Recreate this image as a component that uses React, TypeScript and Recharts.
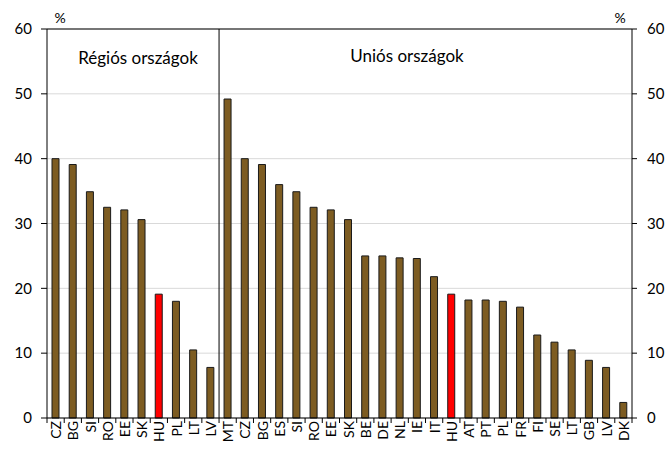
import React from "react";
import {
  ComposedChart,
  Bar,
  Line,
  Cell,
  XAxis,
  YAxis,
  CartesianGrid,
  ReferenceLine,
} from "recharts";

const regionalCountries = ["CZ", "BG", "SI", "RO", "EE", "SK", "HU", "PL", "LT", "LV"];
const regionalValues = [40.0, 39.1, 34.9, 32.5, 32.1, 30.6, 19.1, 18.0, 10.5, 7.8];

const euCountries = [
  "MT", "CZ", "BG", "ES", "SI", "RO", "EE", "SK", "BE", "DE", "NL", "IE",
  "IT", "HU", "AT", "PT", "PL", "FR", "FI", "SE", "LT", "GB", "LV", "DK",
];
const euValues = [
  49.2, 40.0, 39.1, 36.0, 34.9, 32.5, 32.1, 30.6, 25.0, 25.0, 24.7, 24.6,
  21.8, 19.1, 18.2, 18.2, 18.0, 17.1, 12.8, 11.7, 10.5, 8.9, 7.8, 2.4,
];

const yTicks = [0, 10, 20, 30, 40, 50, 60];
const highlight = "HU";

const data = [
  ...regionalCountries.map((c, i) => ({ id: `r-${c}`, name: c, value: regionalValues[i] })),
  ...euCountries.map((c, i) => ({ id: `u-${c}`, name: c, value: euValues[i] })),
];

const W = 669;
const H = 451;
const LEFT_W = 47;
const RIGHT_W = 37;
const STEP = (W - LEFT_W - RIGHT_W) / data.length;
const FONT = "Lato, 'Open Sans', sans-serif";

const XTick = (props: any) => {
  const { x, y, index } = props;
  const item = data[index];
  const axisY = y - 3;
  return (
    <g>
      <line x1={x - STEP / 2} x2={x - STEP / 2} y1={axisY} y2={axisY + 5} stroke="#000" />
      {index === data.length - 1 && (
        <line x1={x + STEP / 2} x2={x + STEP / 2} y1={axisY} y2={axisY + 5} stroke="#000" />
      )}
      <text
        transform={`translate(${x},${y}) rotate(-90)`}
        textAnchor="end"
        dominantBaseline="central"
        fontSize={14}
        fontFamily={FONT}
        fill="#000"
      >
        {item ? item.name : ""}
      </text>
    </g>
  );
};

const overlay = (left: number, top: number, size: number): React.CSSProperties => ({
  position: "absolute",
  left,
  top,
  transform: "translate(-50%, -50%)",
  fontFamily: FONT,
  fontSize: size,
  lineHeight: 1,
  color: "#000",
  whiteSpace: "nowrap",
});

export default function App() {
  return (
    <div style={{ position: "absolute", left: 0, top: 0, width: W, height: H, background: "#fff" }}>
      <ComposedChart
        width={W}
        height={H}
        data={data}
        margin={{ top: 29, right: 0, left: 0, bottom: 0 }}
        barCategoryGap={0}
      >
        <CartesianGrid vertical={false} stroke="#d9d9d9" />
        <XAxis
          dataKey="id"
          interval={0}
          height={33}
          tickLine={false}
          tickSize={0}
          tickMargin={3}
          axisLine={{ stroke: "#000" }}
          tick={<XTick />}
        />
        <YAxis
          domain={[0, 60]}
          ticks={yTicks}
          width={LEFT_W}
          axisLine={{ stroke: "#000" }}
          tickLine={{ stroke: "#000" }}
          tickSize={6}
          tickMargin={9}
          tick={{ fill: "#000", fontSize: 15, fontFamily: FONT }}
        />
        <YAxis
          yAxisId="right"
          orientation="right"
          domain={[0, 60]}
          ticks={yTicks}
          width={RIGHT_W}
          axisLine={{ stroke: "#000" }}
          tickLine={{ stroke: "#000" }}
          tickSize={5}
          tickMargin={10}
          tick={{ fill: "#000", fontSize: 15, fontFamily: FONT }}
        />
        <ReferenceLine y={60} stroke="#000" />
        <ReferenceLine x="u-MT" position="start" stroke="#000" />
        <Bar dataKey="value" barSize={7} stroke="#1a1a1a" strokeWidth={1} isAnimationActive={false}>
          {data.map((d) => (
            <Cell key={d.id} fill={d.name === highlight ? "#ff0000" : "#7d5c22"} />
          ))}
        </Bar>
        <Line
          yAxisId="right"
          dataKey="value"
          stroke="none"
          dot={false}
          activeDot={false}
          legendType="none"
          isAnimationActive={false}
        />
      </ComposedChart>
      <div style={overlay(60, 18, 14)}>%</div>
      <div style={overlay(620, 18, 14)}>%</div>
      <div style={overlay(138, 57, 17)}>Régiós országok</div>
      <div style={overlay(407, 55, 17)}>Uniós országok</div>
    </div>
  );
}
